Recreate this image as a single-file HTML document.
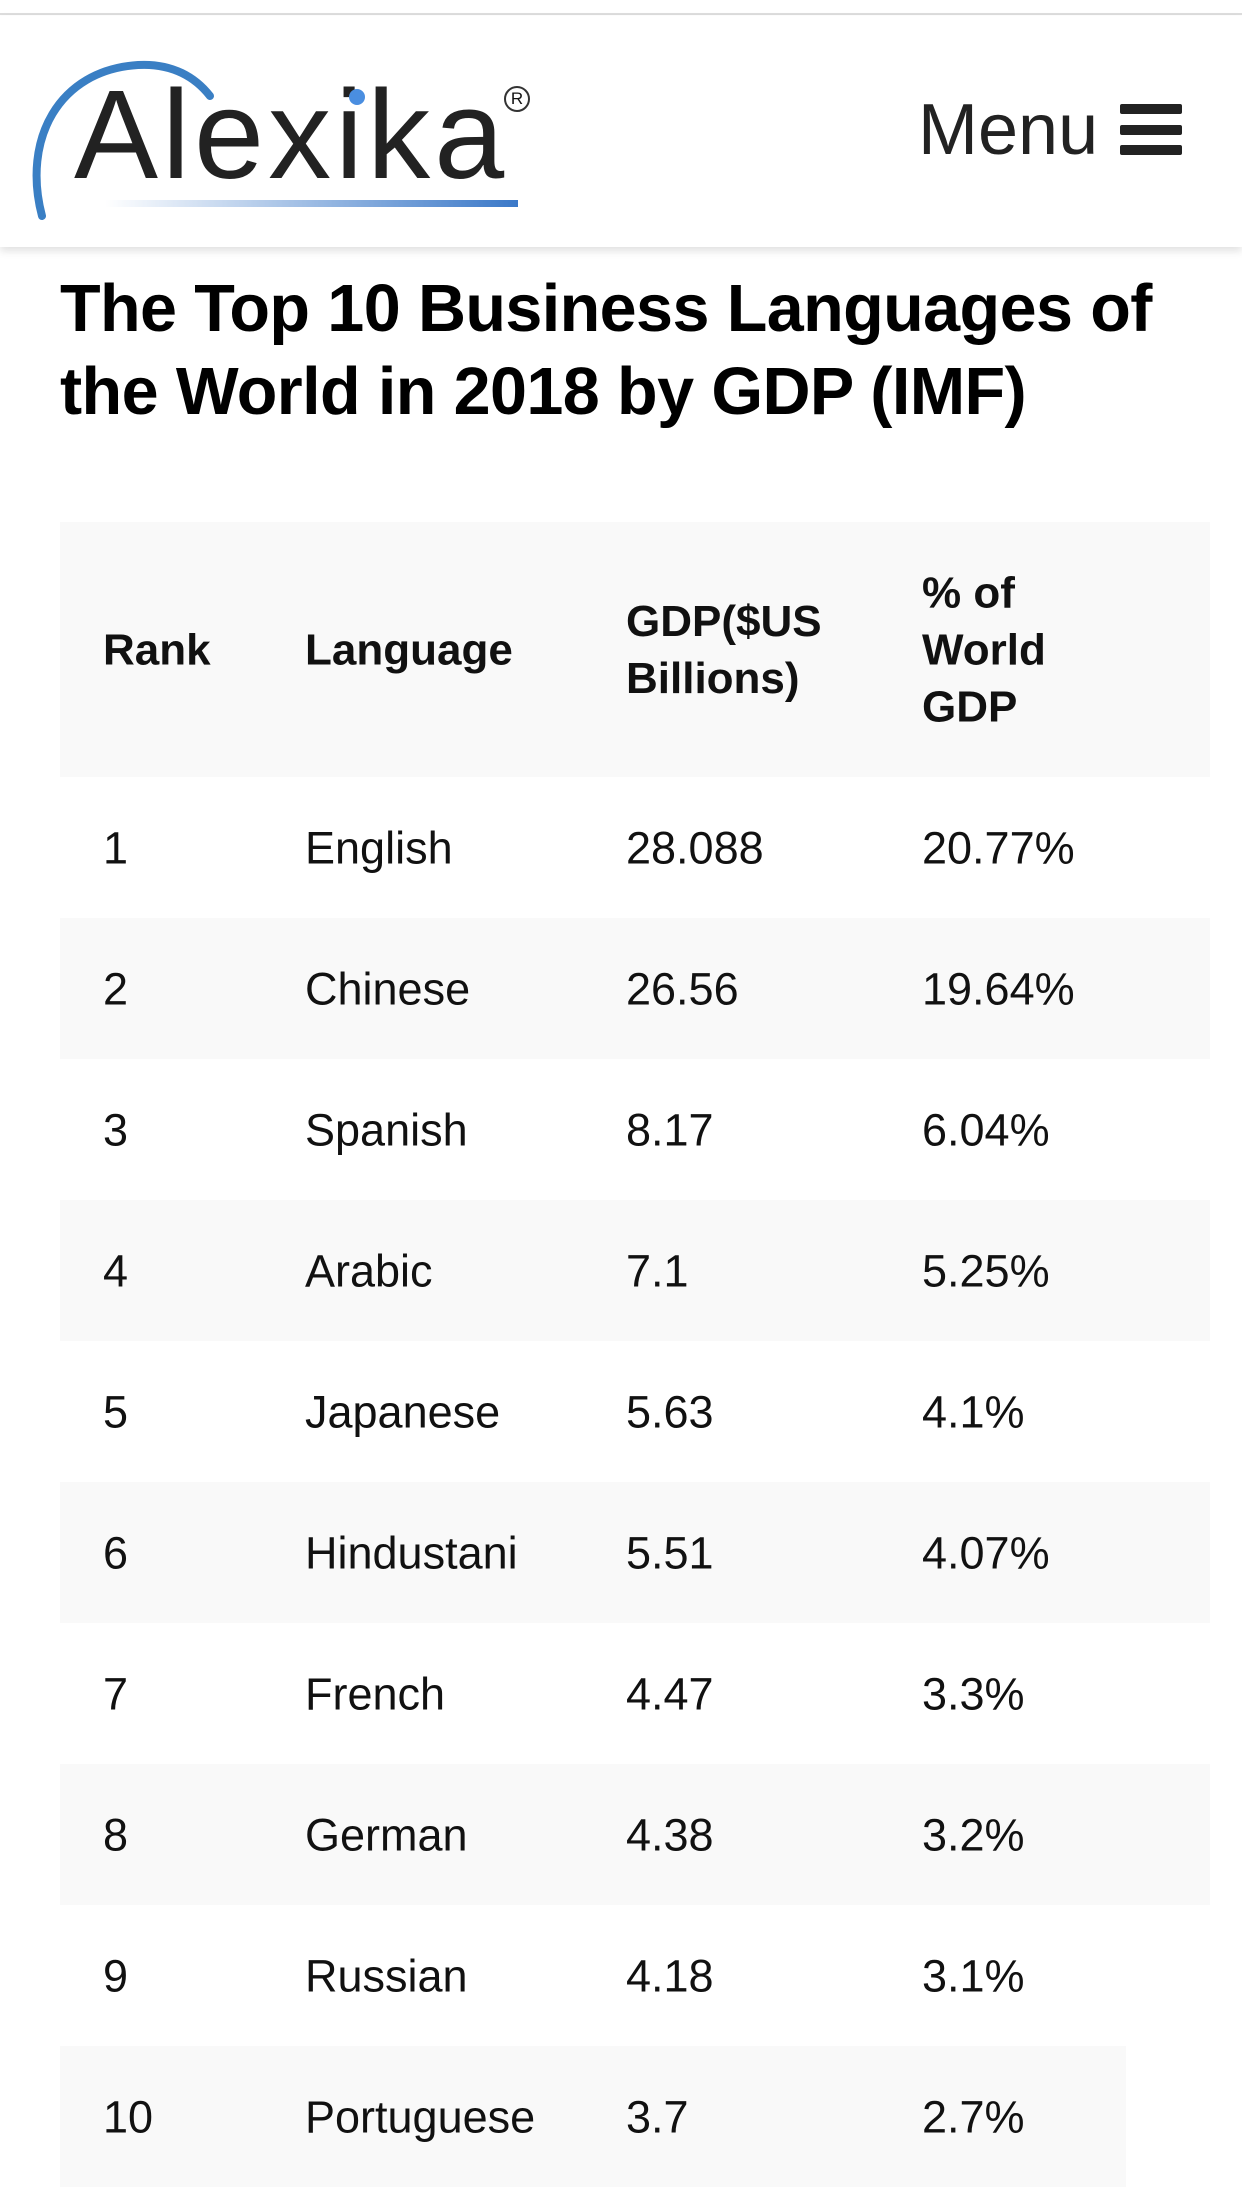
<!DOCTYPE html>
<html><head><meta charset="utf-8"><style>
*{margin:0;padding:0;box-sizing:border-box}
body{width:1242px;height:2190px;background:#fff;font-family:"Liberation Sans",Arial,sans-serif;color:#111;position:relative;overflow:hidden}
.topline{position:absolute;top:0;left:0;width:1242px;height:15px;border-bottom:2px solid #ddd;background:#fff}
.header{position:absolute;top:16px;left:0;width:1242px;height:231px;background:#fff;box-shadow:0 4px 8px rgba(0,0,0,0.12)}
.logo{position:absolute;left:74px;top:56px;font-size:126px;color:#222;letter-spacing:4px;line-height:1}
.ul{position:absolute;left:105px;top:184px;width:413px;height:7px;background:linear-gradient(90deg,rgba(60,120,200,0),#3a78c8)}
.reg{position:absolute;left:504px;top:70px;width:26px;height:26px;border:2px solid #333;border-radius:50%;font-size:17px;text-align:center;line-height:22px}
.menu{position:absolute;left:918px;top:78px;font-size:72px;color:#222;line-height:1}
.bar{position:absolute;left:1120px;width:62px;height:10px;background:#222;border-radius:2px}
h1{position:absolute;left:60px;top:268px;font-size:66.5px;font-weight:bold;line-height:83px;letter-spacing:-0.6px;width:1160px;color:#000}
.row{position:absolute;left:60px;width:1150px;height:141px;font-size:45px}
.g{background:#f9f9f9}
.c{position:absolute;top:50%;transform:translateY(-50%);line-height:57px}
.th{font-weight:bold;font-size:44px}
</style></head><body>
<div class="topline"></div>
<div class="header">
<svg style="position:absolute;left:28px;top:24px" width="200" height="190"><path d="M14 176 C -6 100, 30 30, 110 25 C 145 23, 168 38, 182 56" fill="none" stroke="#3a7fc4" stroke-width="8" stroke-linecap="round"/></svg>
<div class="logo">Alexika</div>
<div class="reg">R</div>
<svg style="position:absolute;left:348px;top:72px" width="18" height="18"><circle cx="9" cy="9" r="8" fill="#4a8ee0"/></svg>
<div class="ul"></div>
<div class="menu">Menu</div>
<div class="bar" style="top:88px"></div>
<div class="bar" style="top:109px"></div>
<div class="bar" style="top:129px"></div>
</div>
<h1>The Top 10 Business Languages of the World in 2018 by GDP (IMF)</h1>
<div class="row g th" style="top:522px;height:255px">
<div class="c" style="left:43px">Rank</div>
<div class="c" style="left:245px">Language</div>
<div class="c" style="left:566px">GDP($US<br>Billions)</div>
<div class="c" style="left:862px">% of<br>World<br>GDP</div>
</div>
<div class="row" style="top:777px"><div class="c" style="left:43px">1</div><div class="c" style="left:245px">English</div><div class="c" style="left:566px">28.088</div><div class="c" style="left:862px">20.77%</div></div>
<div class="row g" style="top:918px"><div class="c" style="left:43px">2</div><div class="c" style="left:245px">Chinese</div><div class="c" style="left:566px">26.56</div><div class="c" style="left:862px">19.64%</div></div>
<div class="row" style="top:1059px"><div class="c" style="left:43px">3</div><div class="c" style="left:245px">Spanish</div><div class="c" style="left:566px">8.17</div><div class="c" style="left:862px">6.04%</div></div>
<div class="row g" style="top:1200px"><div class="c" style="left:43px">4</div><div class="c" style="left:245px">Arabic</div><div class="c" style="left:566px">7.1</div><div class="c" style="left:862px">5.25%</div></div>
<div class="row" style="top:1341px"><div class="c" style="left:43px">5</div><div class="c" style="left:245px">Japanese</div><div class="c" style="left:566px">5.63</div><div class="c" style="left:862px">4.1%</div></div>
<div class="row g" style="top:1482px"><div class="c" style="left:43px">6</div><div class="c" style="left:245px">Hindustani</div><div class="c" style="left:566px">5.51</div><div class="c" style="left:862px">4.07%</div></div>
<div class="row" style="top:1623px"><div class="c" style="left:43px">7</div><div class="c" style="left:245px">French</div><div class="c" style="left:566px">4.47</div><div class="c" style="left:862px">3.3%</div></div>
<div class="row g" style="top:1764px"><div class="c" style="left:43px">8</div><div class="c" style="left:245px">German</div><div class="c" style="left:566px">4.38</div><div class="c" style="left:862px">3.2%</div></div>
<div class="row" style="top:1905px"><div class="c" style="left:43px">9</div><div class="c" style="left:245px">Russian</div><div class="c" style="left:566px">4.18</div><div class="c" style="left:862px">3.1%</div></div>
<div class="row g" style="top:2046px;width:1066px"><div class="c" style="left:43px">10</div><div class="c" style="left:245px">Portuguese</div><div class="c" style="left:566px">3.7</div><div class="c" style="left:862px">2.7%</div></div>
</body></html>
